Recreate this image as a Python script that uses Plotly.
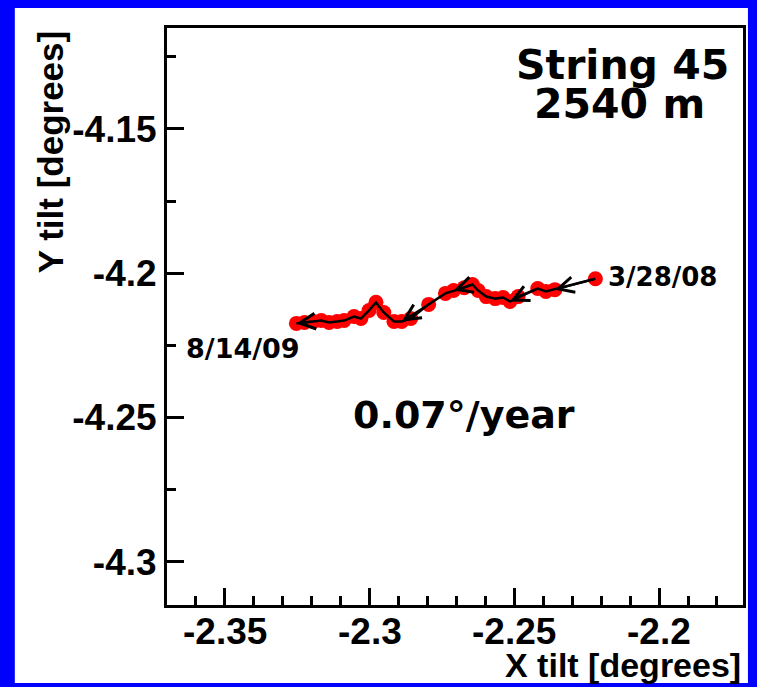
import plotly.graph_objects as go

# ---- data ----
x_tilt = [-2.2220, -2.2360, -2.2391, -2.2419, -2.2487, -2.2515, -2.2539, -2.2566,
          -2.2597, -2.2625, -2.2645, -2.2673, -2.2710, -2.2738, -2.2796, -2.2858,
          -2.2889, -2.2916, -2.2951, -2.2978, -2.3002, -2.3030, -2.3054, -2.3088,
          -2.3112, -2.3140, -2.3167, -2.3194, -2.3225, -2.3253]
y_tilt = [-4.2019, -4.2057, -4.2063, -4.2053, -4.2081, -4.2098, -4.2084, -4.2088,
          -4.2081, -4.2060, -4.2039, -4.2050, -4.2060, -4.2070, -4.2108, -4.2157,
          -4.2167, -4.2167, -4.2136, -4.2101, -4.2129, -4.2157, -4.2150, -4.2164,
          -4.2167, -4.2171, -4.2164, -4.2167, -4.2171, -4.2174]

arrow_heads = [1, 5, 12, 16, 29]
arrow_tails = [0, 3, 10, 14, 27]

x_tickvals = [-2.35, -2.3, -2.25, -2.2]
x_ticktext = ["-2.35", "-2.3", "-2.25", "-2.2"]
y_tickvals = [-4.3, -4.25, -4.2, -4.15]
y_ticktext = ["-4.3", "-4.25", "-4.2", "-4.15"]

start_label = "3/28/08"
end_label = "8/14/09"
title_lines = ["String 45", "2540 m"]
rate_label = "0.07°/year"
x_title = "X tilt [degrees]"
y_title = "Y tilt [degrees]"

# ---- figure ----
fig = go.Figure()
fig.add_trace(go.Scatter(x=x_tilt, y=y_tilt, mode="markers",
                         marker=dict(color="#FF0000", size=15, line=dict(width=0)),
                         hoverinfo="skip", showlegend=False))
fig.add_trace(go.Scatter(x=x_tilt, y=y_tilt, mode="lines",
                         line=dict(color="black", width=2.5),
                         hoverinfo="skip", showlegend=False))

annotations = []
for h, t in zip(arrow_heads, arrow_tails):
    annotations.append(dict(x=x_tilt[h], y=y_tilt[h], ax=x_tilt[t], ay=y_tilt[t],
                            xref="x", yref="y", axref="x", ayref="y", text="",
                            showarrow=True, arrowhead=5, arrowsize=1.4,
                            arrowwidth=2.2, arrowcolor="black", standoff=0))

dv = "DejaVu Sans"
lib = "Liberation Sans"
tickfont = dict(family=lib, size=37, color="black", weight="bold")

# x tick labels placed at the axis tick values, close under the frame
for v, txt in zip(x_tickvals, x_ticktext):
    annotations.append(dict(x=v, y=0, xref="x", yref="paper", text=txt,
                            showarrow=False, xanchor="center", yanchor="top",
                            yshift=-4, font=tickfont))

annotations += [
    dict(x=0.791, y=0.936, xref="paper", yref="paper", text=title_lines[0],
         showarrow=False, xanchor="center", yanchor="middle",
         font=dict(family=dv, size=41, color="black", weight="bold")),
    dict(x=0.786, y=0.868, xref="paper", yref="paper", text=title_lines[1],
         showarrow=False, xanchor="center", yanchor="middle",
         font=dict(family=dv, size=41, color="black", weight="bold")),
    dict(x=0.763, y=0.568, xref="paper", yref="paper", text=start_label,
         showarrow=False, xanchor="left", yanchor="middle",
         font=dict(family=dv, size=26, color="black", weight="bold")),
    dict(x=0.029, y=0.445, xref="paper", yref="paper", text=end_label,
         showarrow=False, xanchor="left", yanchor="middle",
         font=dict(family=dv, size=27, color="black", weight="bold")),
    dict(x=0.516, y=0.329, xref="paper", yref="paper", text=rate_label,
         showarrow=False, xanchor="center", yanchor="middle",
         font=dict(family=dv, size=38, color="black", weight="bold")),
    dict(x=1.0, y=-0.104, xref="paper", yref="paper", text=x_title,
         showarrow=False, xanchor="right", yanchor="middle",
         font=dict(family=lib, size=34, color="black", weight="bold")),
    dict(x=-0.202, y=0.784, xref="paper", yref="paper", text=y_title,
         showarrow=False, xanchor="center", yanchor="middle", textangle=-90,
         font=dict(family=lib, size=35, color="black", weight="bold")),
]

fig.update_layout(
    width=757, height=687,
    margin=dict(l=167, r=11, t=28, b=82),
    paper_bgcolor="#0000FF",
    plot_bgcolor="white",
    showlegend=False,
    annotations=annotations,
    shapes=[dict(type="rect", xref="paper", yref="paper",
                 x0=-0.2642, x1=1.0086, y0=-0.1352, y1=1.0347,
                 fillcolor="white", line=dict(width=0), layer="below")],
    xaxis=dict(range=[-2.37, -2.171], showgrid=False, zeroline=False,
               showline=True, linecolor="black", linewidth=3, mirror=True,
               ticks="inside", ticklen=17, tickwidth=3, tickcolor="black",
               tickvals=x_tickvals, showticklabels=False,
               minor=dict(ticks="inside", ticklen=9, tickwidth=3,
                          tickcolor="black", dtick=0.01, tick0=-2.35,
                          showgrid=False)),
    yaxis=dict(range=[-4.315, -4.115], showgrid=False, zeroline=False,
               showline=True, linecolor="black", linewidth=3, mirror=True,
               ticks="inside", ticklen=17, tickwidth=3, tickcolor="black",
               tickvals=y_tickvals, ticktext=y_ticktext, tickfont=tickfont,
               minor=dict(ticks="inside", ticklen=9, tickwidth=3,
                          tickcolor="black", dtick=0.025, tick0=-4.3,
                          showgrid=False)),
)

fig.write_html("out.html",
               config={"displayModeBar": False},
               post_script="document.body.style.margin='0';document.body.style.overflow='hidden';")
